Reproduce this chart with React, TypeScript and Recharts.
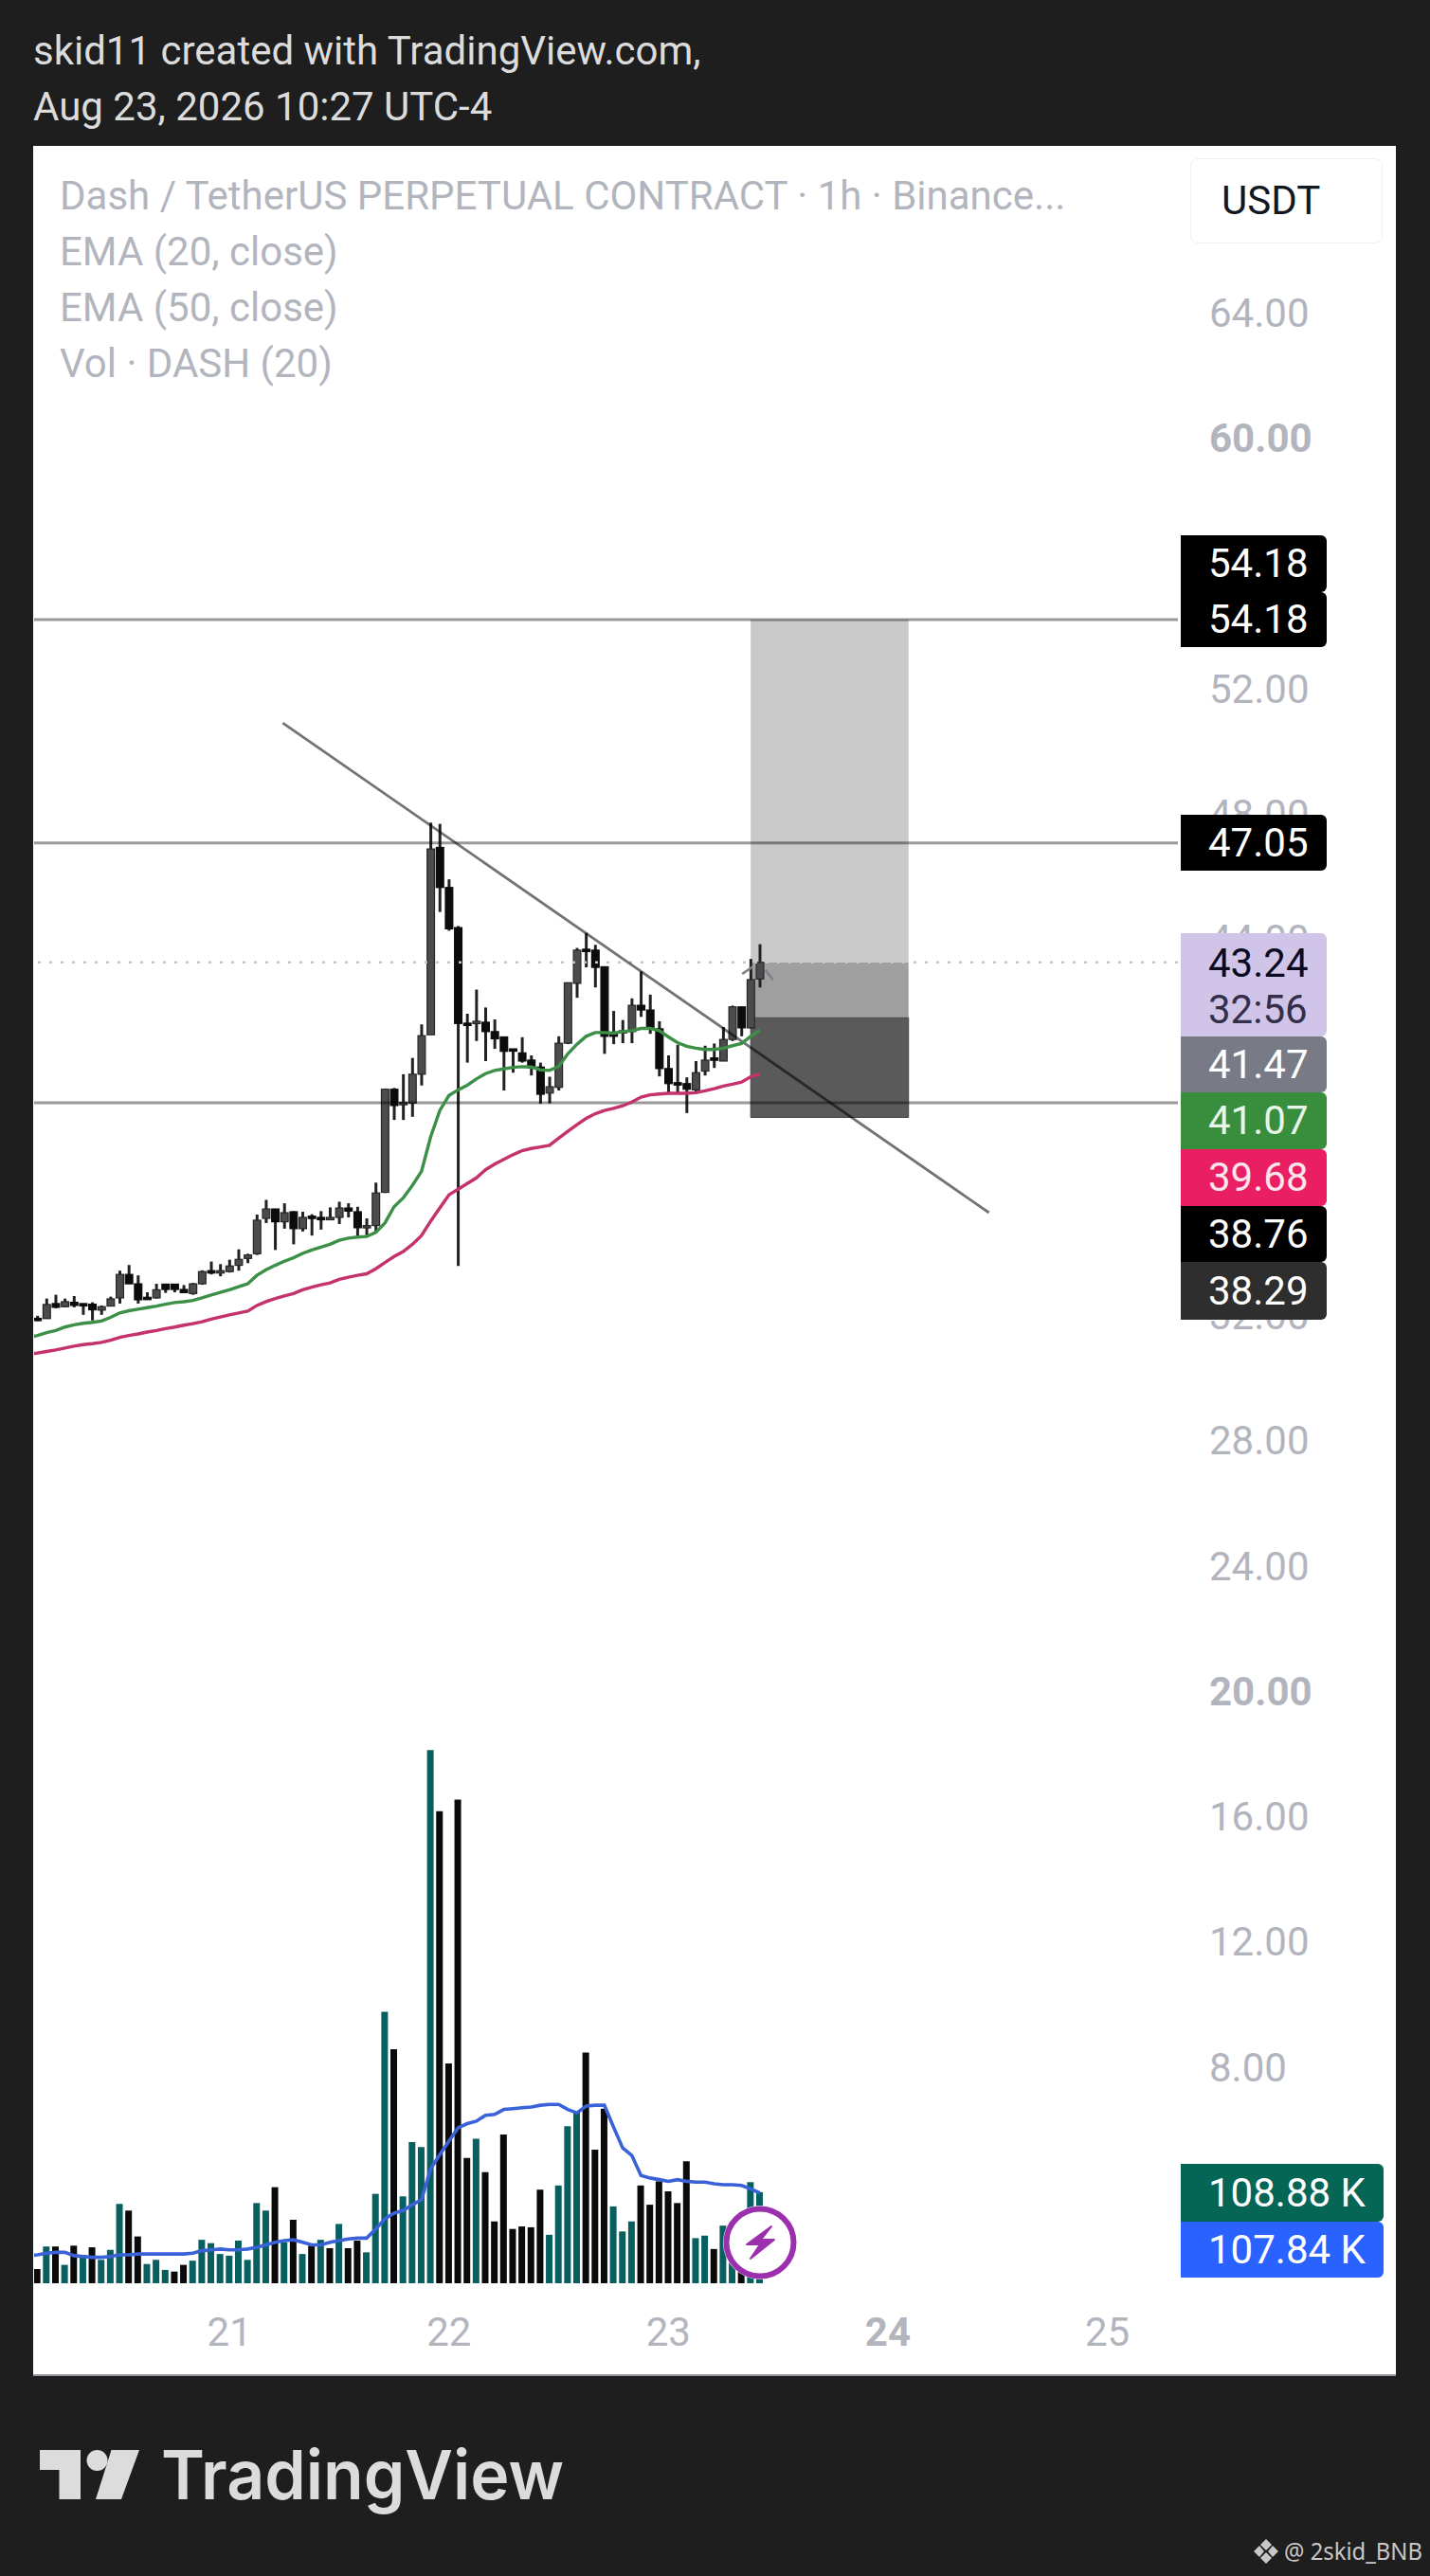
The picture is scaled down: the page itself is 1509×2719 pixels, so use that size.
import {
  Bar,
  Cell,
  ComposedChart,
  Line,
  ReferenceArea,
  ReferenceLine,
  XAxis,
  YAxis,
} from "recharts"

// one value per hourly bar, bar 0 is the left edge of the picture
const opens = [31.88, 31.87, 32.35, 32.25, 32.39, 32.35, 32.33, 32.14, 32.27, 32.53, 33.28, 32.98, 32.55, 32.53, 32.97, 32.97, 32.8, 32.67, 32.98, 33.4, 33.37, 33.37, 33.57, 33.79, 33.94, 35.07, 35.37, 34.96, 35.28, 34.74, 35.14, 35.1, 35.07, 35.1, 35.4, 35.28, 34.8, 34.84, 35.9, 39.19, 38.74, 38.75, 39.67, 40.93, 46.91, 45.63, 44.35, 41.3, 41.3, 41.33, 41.03, 40.86, 40.48, 40.35, 40.12, 39.9, 39.07, 39.25, 40.66, 42.57, 43.66, 43.63, 43.1, 41.0, 41.02, 41.03, 41.87, 41.72, 41.12, 39.85, 39.4, 39.37, 39.17, 39.77, 40.19, 40.09, 40.78, 41.82, 41.15, 42.71]
const highs = [31.96, 32.51, 32.63, 32.51, 32.59, 32.35, 32.39, 32.29, 32.57, 33.4, 33.58, 33.25, 32.71, 32.98, 32.97, 32.97, 32.94, 33.01, 33.41, 33.69, 33.61, 33.75, 34.08, 33.94, 35.19, 35.66, 35.37, 35.55, 35.3, 35.28, 35.2, 35.3, 35.42, 35.6, 35.55, 35.44, 35.07, 36.21, 39.19, 39.23, 39.67, 40.19, 41.26, 47.7, 47.66, 45.89, 44.4, 41.6, 42.37, 41.8, 41.42, 40.86, 40.48, 40.85, 40.27, 40.04, 39.59, 40.88, 42.59, 43.7, 44.18, 43.8, 43.1, 41.69, 41.4, 42.09, 42.95, 42.21, 41.36, 40.27, 40.61, 39.57, 40.09, 40.58, 40.65, 41.18, 41.86, 41.82, 43.35, 43.82]
const lows = [31.79, 31.87, 32.2, 32.23, 32.23, 31.99, 31.81, 31.99, 32.27, 32.35, 32.98, 32.35, 32.52, 32.51, 32.69, 32.71, 32.7, 32.63, 32.95, 33.28, 33.22, 33.34, 33.4, 33.64, 33.9, 34.92, 34.06, 34.74, 34.24, 34.65, 34.52, 34.71, 35.01, 34.89, 35.1, 34.5, 34.47, 34.62, 35.88, 38.21, 38.21, 38.31, 39.31, 40.93, 44.85, 44.25, 33.55, 40.04, 40.73, 40.09, 40.48, 39.15, 39.72, 40.04, 39.63, 38.73, 38.74, 39.15, 40.63, 42.11, 43.08, 42.44, 40.32, 40.63, 40.66, 40.66, 41.5, 40.96, 39.6, 39.07, 39.07, 38.43, 39.12, 39.63, 39.87, 40.09, 40.73, 40.88, 41.13, 42.44]
const closes = [31.85, 32.32, 32.23, 32.41, 32.29, 32.32, 32.15, 32.25, 32.5, 33.28, 32.98, 32.47, 32.52, 32.79, 32.8, 32.8, 32.7, 32.98, 33.37, 33.34, 33.4, 33.55, 33.76, 33.9, 35.01, 35.37, 34.96, 35.25, 34.74, 35.1, 35.1, 35.07, 35.1, 35.4, 35.3, 34.77, 34.84, 35.88, 39.19, 38.67, 38.77, 39.67, 40.9, 46.86, 45.63, 44.31, 41.29, 41.26, 41.36, 41.03, 40.8, 40.4, 40.42, 40.09, 39.87, 39.03, 39.27, 40.66, 42.59, 43.63, 43.6, 43.08, 40.88, 40.88, 41.06, 41.87, 41.72, 41.12, 39.85, 39.37, 39.34, 39.19, 39.72, 40.12, 40.12, 40.78, 41.82, 41.15, 42.69, 43.24]
const ema20 = [31.33, 31.42, 31.49, 31.6, 31.67, 31.72, 31.75, 31.79, 31.91, 32.05, 32.12, 32.17, 32.22, 32.27, 32.33, 32.38, 32.41, 32.45, 32.53, 32.62, 32.71, 32.79, 32.89, 32.98, 33.25, 33.43, 33.57, 33.7, 33.81, 33.95, 34.06, 34.15, 34.24, 34.37, 34.44, 34.47, 34.49, 34.62, 34.92, 35.44, 35.72, 36.12, 36.57, 37.67, 38.51, 38.99, 39.17, 39.32, 39.52, 39.69, 39.79, 39.84, 39.89, 39.91, 39.9, 39.81, 39.79, 39.92, 40.32, 40.63, 40.88, 41.0, 41.0, 40.98, 41.03, 41.06, 41.13, 41.13, 41.06, 40.86, 40.68, 40.56, 40.5, 40.46, 40.46, 40.5, 40.58, 40.65, 40.88, 41.07]
const ema50 = [30.77, 30.82, 30.87, 30.93, 30.99, 31.04, 31.07, 31.11, 31.18, 31.27, 31.33, 31.38, 31.44, 31.49, 31.55, 31.6, 31.66, 31.71, 31.77, 31.85, 31.92, 31.99, 32.05, 32.11, 32.29, 32.41, 32.51, 32.59, 32.67, 32.79, 32.87, 32.95, 33.01, 33.12, 33.19, 33.25, 33.3, 33.46, 33.66, 33.85, 34.01, 34.24, 34.52, 34.98, 35.4, 35.82, 36.0, 36.18, 36.36, 36.62, 36.8, 36.95, 37.1, 37.23, 37.3, 37.35, 37.4, 37.63, 37.85, 38.06, 38.26, 38.41, 38.51, 38.58, 38.66, 38.78, 38.94, 39.01, 39.04, 39.06, 39.06, 39.06, 39.08, 39.14, 39.21, 39.29, 39.35, 39.42, 39.59, 39.68]
// thousands of DASH
const volumes = [17, 44, 44, 22, 45, 34, 43, 28, 40, 95, 87, 56, 23, 28, 16, 14, 22, 27, 52, 48, 35, 33, 51, 28, 96, 87, 115, 49, 76, 35, 45, 52, 42, 71, 42, 51, 37, 107, 325, 280, 104, 169, 163, 638, 565, 263, 579, 150, 173, 133, 74, 178, 65, 68, 67, 112, 58, 117, 188, 204, 276, 160, 209, 92, 62, 74, 117, 94, 122, 110, 96, 146, 54, 57, 41, 69, 51, 14, 121, 109]
const volumeMa = [34, 36, 37, 37, 33, 32, 31, 31, 32, 34, 34, 35, 35, 35, 35, 35, 35, 36, 39, 40, 41, 40, 40, 41, 43, 46, 49, 51, 52, 49, 46, 46, 49, 51, 53, 54, 54, 65, 77, 84, 87, 94, 100, 137, 154, 170, 186, 191, 194, 201, 202, 208, 209, 210, 211, 213, 214, 214, 208, 204, 212, 213, 213, 187, 162, 153, 129, 126, 124, 122, 124, 122, 121, 121, 119, 118, 118, 117, 113, 108]
const volumeUp = [0, 1, 0, 1, 0, 1, 0, 1, 1, 1, 0, 0, 1, 1, 1, 0, 0, 1, 1, 1, 1, 1, 1, 1, 1, 1, 0, 1, 0, 1, 0, 1, 0, 1, 0, 0, 1, 1, 1, 0, 1, 1, 1, 1, 0, 0, 0, 0, 1, 0, 0, 0, 0, 0, 0, 0, 1, 1, 1, 1, 0, 0, 0, 1, 1, 1, 0, 0, 0, 0, 0, 0, 1, 1, 0, 1, 1, 0, 1, 1]

// 56, 40 and 36 are hidden behind the price tags, so they are left out
const priceTicks = [64, 60, 52, 48, 44, 32, 28, 24, 20, 16, 12, 8]
const boldPriceTicks = [60, 20]
// day labels sit on the midnight bars
const dayBars = [21, 45, 69, 93, 117]
const dayLabels = ["21", "22", "23", "24", "25"]
const boldDay = "24"

const targetHigh = 54.18
const entry = 41.47
const stop = 38.29
const support = 38.76
const resistance = 47.05
const lastPrice = 43.24

// the moving averages run in from the bar cut off by the left edge
const offscreenBar = { bar: -1, ema20: 31.25, ema50: 30.72, volumeMa: 33 }

const data = [
  offscreenBar,
  ...opens.map((open, i) => ({
    bar: i,
    open,
    high: highs[i],
    low: lows[i],
    close: closes[i],
    ema20: ema20[i],
    ema50: ema50[i],
    volume: volumes[i],
    volumeMa: volumeMa[i],
  })),
]

const FONT = "Roboto, sans-serif"
const GREY_TEXT = "#b2b5be"
const X_DOMAIN: [number, number] = [-0.363, 124.72]

function Candle(props: any) {
  const { x, y, width, height, payload } = props
  const { open, high, low, close } = payload
  if (open === undefined) return null
  const perUnit = height / (high - low)
  const cx = x + width / 2
  const top = y + (high - Math.max(open, close)) * perUnit
  const bodyH = Math.max(Math.abs(open - close) * perUnit, 2.5)
  const up = close >= open
  return (
    <g>
      <rect x={cx - 1.5} y={y} width={3} height={height} fill="#222" />
      <rect
        x={cx - 3.9}
        y={top}
        width={7.8}
        height={bodyH}
        fill={up ? "#4c4c4c" : "#0c0c0c"}
        stroke={up ? "#262626" : "#0c0c0c"}
        strokeWidth={1.2}
      />
    </g>
  )
}

function PriceTick(props: any) {
  const { x, y, payload } = props
  return (
    <text
      x={x}
      y={y + 1}
      fontFamily={FONT}
      fontSize={42}
      fontWeight={boldPriceTicks.includes(payload.value) ? 700 : 400}
      fill={GREY_TEXT}
      dominantBaseline="central"
    >
      {payload.value.toFixed(2)}
    </text>
  )
}

function DayTick(props: any) {
  const { x, y, payload } = props
  const label = dayLabels[dayBars.indexOf(payload.value)]
  return (
    <text
      x={x}
      y={y}
      fontFamily={FONT}
      fontSize={42}
      fontWeight={label === boldDay ? 700 : 400}
      fill={GREY_TEXT}
      textAnchor="middle"
      dominantBaseline="central"
    >
      {label}
    </text>
  )
}

function Tag({ top, height, right = 1400, bg, color = "#fff", children }: any) {
  return (
    <div
      style={{
        position: "absolute",
        left: 1246,
        top,
        width: right - 1246,
        height,
        background: bg,
        color,
        borderRadius: "0 6px 6px 0",
        font: `42px/${height}px ${FONT}`,
        paddingLeft: 29,
        boxSizing: "border-box",
        whiteSpace: "nowrap",
      }}
    >
      {children}
    </div>
  )
}

function Text({ x, y, size = 42, color, children }: any) {
  return (
    <div
      style={{
        position: "absolute",
        left: x,
        top: y - 30,
        height: 60,
        font: `${size}px/60px ${FONT}`,
        color,
        whiteSpace: "nowrap",
      }}
    >
      {children}
    </div>
  )
}

export default function App() {
  return (
    <div style={{ position: "absolute", left: 0, top: 0, width: 1509, height: 2719, background: "#1e1e1e", overflow: "hidden" }}>
      <Text x={35} y={54} color="#dcdcdc">skid11 created with TradingView.com,</Text>
      <Text x={35} y={113} color="#dcdcdc">Aug 23, 2026 10:27 UTC-4</Text>

      <div style={{ position: "absolute", left: 35, top: 154, width: 1438, height: 2354, background: "#fff", boxSizing: "border-box", borderBottom: "2px solid #9598a1" }} />

      <div style={{ position: "absolute", left: 0, top: 0 }}>
        <ComposedChart
          width={1509}
          height={2719}
          data={data}
          margin={{ top: 155, left: 36, right: 40, bottom: 209 }}
        >
          <XAxis
            xAxisId="price"
            dataKey="bar"
            type="number"
            domain={X_DOMAIN}
            allowDataOverflow
            ticks={dayBars}
            interval={0}
            height={100}
            tickSize={0}
            tickMargin={51}
            axisLine={false}
            tick={<DayTick />}
          />
          <XAxis xAxisId="vol" dataKey="bar" type="number" domain={X_DOMAIN} allowDataOverflow hide />
          <YAxis
            yAxisId="price"
            orientation="right"
            domain={[1.08, 69.27]}
            ticks={priceTicks}
            interval={0}
            width={226}
            tickSize={0}
            tickMargin={33}
            axisLine={false}
            tick={<PriceTick />}
          />
          <YAxis yAxisId="vol" domain={[0, 2557]} hide />

          <ReferenceArea xAxisId="price" yAxisId="price" x1={78} x2={95.26} y1={lastPrice} y2={targetHigh} fill="#c9c9c9" fillOpacity={1} />
          <ReferenceArea xAxisId="price" yAxisId="price" x1={78} x2={95.26} y1={entry} y2={lastPrice} fill="#9f9f9f" fillOpacity={1} />
          <ReferenceArea xAxisId="price" yAxisId="price" x1={78} x2={95.26} y1={stop} y2={entry} fill="#5a5a5a" fillOpacity={1} stroke="#45454a" strokeWidth={1} />

          <ReferenceLine xAxisId="price" yAxisId="price" y={lastPrice} stroke="#c4c6cc" strokeWidth={2.4} strokeDasharray="3 9" />
          <ReferenceLine xAxisId="price" yAxisId="price" y={targetHigh} stroke="#000" strokeOpacity={0.4} strokeWidth={3} />
          <ReferenceLine xAxisId="price" yAxisId="price" y={resistance} stroke="#000" strokeOpacity={0.4} strokeWidth={3} />
          <ReferenceLine xAxisId="price" yAxisId="price" y={support} stroke="#000" strokeOpacity={0.4} strokeWidth={3} />
          <ReferenceLine
            xAxisId="price"
            yAxisId="price"
            segment={[{ x: 26.83, y: 50.88 }, { x: 104.06, y: 35.25 }]}
            stroke="#000"
            strokeOpacity={0.55}
            strokeWidth={2.8}
          />
          <ReferenceLine xAxisId="price" yAxisId="price" segment={[{ x: 77.07, y: 42.87 }, { x: 78.2, y: 43.1 }]} stroke="#7d7f8a" strokeWidth={2.5} />
          <ReferenceLine xAxisId="price" yAxisId="price" segment={[{ x: 79.6, y: 43.0 }, { x: 80.45, y: 42.68 }]} stroke="#7d7f8a" strokeWidth={2.5} />

          <Bar
            xAxisId="vol"
            yAxisId="vol"
            dataKey="volume"
            barSize={7}
            isAnimationActive={false}
          >
            {[0, ...volumeUp].map((up, i) => (
              <Cell key={i} fill={up ? "#075f5f" : "#0a0a0a"} />
            ))}
          </Bar>
          <Line xAxisId="vol" yAxisId="vol" dataKey="volumeMa" stroke="#3a62d8" strokeWidth={3.6} dot={false} isAnimationActive={false} />

          <Bar
            xAxisId="price"
            yAxisId="price"
            dataKey={(d: any) => [d.low, d.high]}
            barSize={8}
            shape={<Candle />}
            isAnimationActive={false}
          />
          <Line xAxisId="price" yAxisId="price" dataKey="ema20" stroke="#3c8f47" strokeWidth={3.4} dot={false} isAnimationActive={false} />
          <Line xAxisId="price" yAxisId="price" dataKey="ema50" stroke="#c4316c" strokeWidth={3.4} dot={false} isAnimationActive={false} />
        </ComposedChart>
      </div>

      <Text x={63} y={207} color={GREY_TEXT}>Dash / TetherUS PERPETUAL CONTRACT · 1h · Binance...</Text>
      <Text x={63} y={266} color={GREY_TEXT}>EMA (20, close)</Text>
      <Text x={63} y={325} color={GREY_TEXT}>EMA (50, close)</Text>
      <Text x={63} y={384} color={GREY_TEXT}>Vol · DASH (20)</Text>

      <div style={{ position: "absolute", left: 1256, top: 167, width: 203, height: 90, boxSizing: "border-box", border: "1.5px solid #eceff5", borderRadius: 8, background: "#fff", font: `42px/87px ${FONT}`, color: "#131722", paddingLeft: 32 }}>USDT</div>

      <Tag top={565} height={60} bg="#000">54.18</Tag>
      <Tag top={625} height={58} bg="#000">54.18</Tag>
      <Tag top={860} height={59} bg="#000">47.05</Tag>
      <div style={{ position: "absolute", left: 1246, top: 985, width: 154, height: 109, background: "#d1c4e9", borderRadius: "0 6px 6px 0", boxSizing: "border-box", paddingLeft: 29, font: `42px/49px ${FONT}`, paddingTop: 7, color: "#0a0a1e" }}>
        <div>43.24</div>
        <div style={{ color: "#332f4a" }}>32:56</div>
      </div>
      <Tag top={1094} height={59} bg="#787b86">41.47</Tag>
      <Tag top={1153} height={60} bg="#388e3c" color="#e8f5e9">41.07</Tag>
      <Tag top={1213} height={60} bg="#e91e63" color="#fce4ec">39.68</Tag>
      <Tag top={1273} height={59} bg="#000">38.76</Tag>
      <Tag top={1332} height={61} bg="#2e2e2e">38.29</Tag>
      <Tag top={2284} height={61} right={1460} bg="#056656">108.88 K</Tag>
      <Tag top={2345} height={59} right={1460} bg="#2962ff">107.84 K</Tag>

      <svg width={1509} height={2719} style={{ position: "absolute", left: 0, top: 0, pointerEvents: "none" }}>
        <circle cx={802} cy={2367} r={39} fill="#fff" />
        <circle cx={802} cy={2367} r={35.5} fill="#fff" stroke="#9c2fae" strokeWidth={6} />
        <polygon points="814,2350 788,2369 802,2369 792,2384 817,2364 803,2364" fill="#9c2fae" stroke="#9c2fae" strokeWidth={2} strokeLinejoin="round" />

        <g fill="#dcdcdc">
          <polygon points="42,2586 85,2586 85,2638 62.5,2638 62.5,2607 42,2607" />
          <circle cx={102.5} cy={2597} r={11} />
          <polygon points="117.5,2586 147,2586 128,2638 101,2638" />
          <text x={170} y={2638} fontFamily="Inter, sans-serif" fontWeight={600} fontSize={72} textLength={425} lengthAdjust="spacingAndGlyphs">TradingView</text>
        </g>

        <g fill="#c8c8c8">
          <polygon points="1336,2680 1342,2686 1336,2692 1330,2686" />
          <polygon points="1329,2687 1334,2693 1329,2699 1323,2693" />
          <polygon points="1343,2687 1349,2693 1343,2699 1338,2693" />
          <polygon points="1336,2694 1342,2700 1336,2706 1330,2700" />
        </g>
        <text x={1355} y={2702} fontFamily="'Noto Sans', sans-serif" fontSize={25} fill="#c8c8c8" textLength={146} lengthAdjust="spacingAndGlyphs">@ 2skid_BNB</text>
      </svg>
    </div>
  )
}
